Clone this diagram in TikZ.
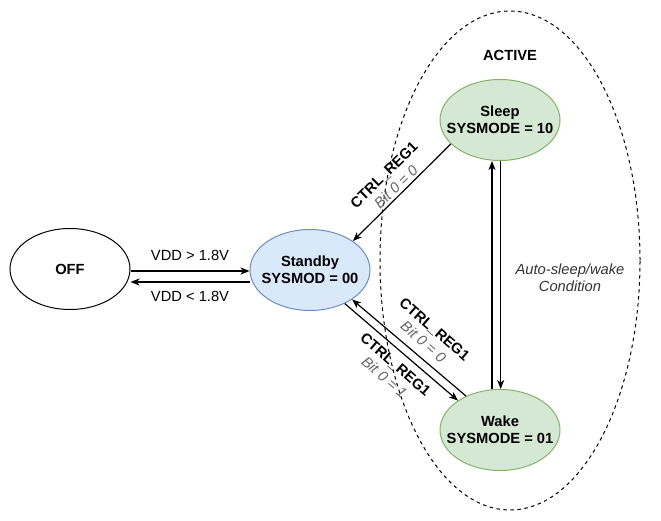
\documentclass[tikz,border=0pt]{standalone}
\usepackage{fontspec}
\setmainfont{Liberation Sans}
\usetikzlibrary{shapes.geometric,arrows.meta,calc}
\definecolor{bluefill}{HTML}{DAE8FC}
\definecolor{blueline}{HTML}{6C8EBF}
\definecolor{greenfill}{HTML}{D5E8D4}
\definecolor{greenline}{HTML}{82B366}
\definecolor{bitgray}{HTML}{666666}
\definecolor{condgray}{HTML}{333333}
\begin{document}
\begin{tikzpicture}[x=1pt,y=-1pt,
  state/.style={ellipse, draw, line width=1pt, minimum width=120pt, minimum height=81pt, inner xsep=-14pt, inner ysep=0pt, align=center, font=\fontsize{14.7}{17}\selectfont\bfseries},
  arr/.style={line width=1.2pt, -{Stealth[length=9pt,width=7pt,inset=2.5pt]}},
  lbl/.style={font=\fontsize{14.7}{17}\selectfont, align=center, inner sep=0pt},
  region/.style={ellipse, draw, line width=1pt, dash pattern=on 3.5pt off 3.5pt, inner sep=0pt}
]
\useasboundingbox (0,0) rectangle (661,521);
\node[region, minimum width=260pt, minimum height=499pt] (active) at (510,260.5) {};
\node[lbl, font=\fontsize{14.7}{17}\selectfont\bfseries] (activelbl) at (510,55) {ACTIVE};

\node[state, fill=white] (off) at (70,269) {OFF};
\node[state, fill=bluefill, draw=blueline] (standby) at (310,270) {Standby\\SYSMOD = 00};
\node[state, fill=greenfill, draw=greenline] (sleep) at (500,120) {Sleep\\SYSMODE = 10};
\node[state, fill=greenfill, draw=greenline] (wake) at (500,430) {Wake\\SYSMODE = 01};

\draw[arr] (off.east |- 0,271) -- (standby.west |- 0,271);
\draw[arr] (standby.west |- 0,282) -- (off.east |- 0,282);
\node[lbl] (vddup) at (190,255) {VDD > 1.8V};
\node[lbl] (vdddown) at (190,296) {VDD < 1.8V};

\draw[arr] ([xshift=-8pt]wake.north) -- ([xshift=-8pt]sleep.south);
\draw[arr] ([xshift=0.7pt]sleep.south) -- ([xshift=0.7pt]wake.north);
\node[lbl, font=\fontsize{14.7}{17}\selectfont\itshape, text=condgray] (cond) at (570,278) {Auto-sleep/wake\\Condition};

\draw[arr] (sleep.206.9) -- (standby.34.1);
\draw[arr] (wake.135) -- (standby.325.7);
\draw[arr] (standby.316.4) -- (wake.145.7);

\node[lbl, rotate=44.5] (l1) at (390,181) {\textbf{CTRL\_REG1}\\\textcolor{bitgray}{\itshape Bit 0 = 0}};
\node[lbl, rotate=-41] (l2) at (429,335.5) {\textbf{CTRL\_REG1}\\\textcolor{bitgray}{\itshape Bit 0 = 0}};
\node[lbl, rotate=-41] (l3) at (390,371) {\textbf{CTRL\_REG1}\\\textcolor{bitgray}{\itshape Bit 0 = 1}};
\end{tikzpicture}
\end{document}
